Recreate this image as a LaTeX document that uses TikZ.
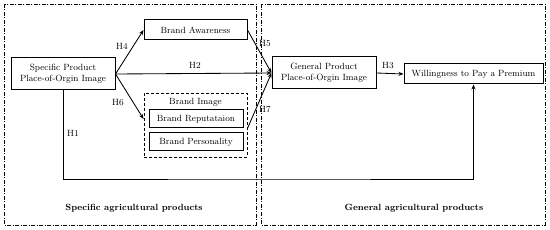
\documentclass[tikz,border=0pt]{standalone}
\usetikzlibrary{arrows.meta,calc}
\begin{document}
\begin{tikzpicture}[x=1pt,y=-1pt,
  box/.style={draw,line width=1pt,rectangle,inner sep=0pt,align=center,font=\fontsize{9}{10.5}\selectfont},
  lab/.style={font=\fontsize{9}{10.5}\selectfont,inner sep=0pt},
  arr/.style={line width=0.85pt,-{Stealth[length=5pt,width=4pt]}},
  region/.style={line width=0.8pt,dash pattern=on 4pt off 1.5pt on 1pt off 1.5pt},
  ttl/.style={font=\fontsize{9}{11}\selectfont\bfseries,inner sep=0pt}]
\useasboundingbox (0,0) rectangle (550,230);
\fill[white] (0,0) rectangle (550,230);
% regions
\draw[region] (4,4) rectangle (256,225);
\draw[region] (261,4) rectangle (545,225);
% nodes
\node[box,minimum width=104pt,minimum height=32pt] (sp) at (63,74) {Specific Product\\Place-of-Orgin Image};
\node[box,minimum width=103pt,minimum height=20pt] (ba) at (195.5,30) {Brand Awareness};
\node[box,minimum width=104pt,minimum height=32pt] (gp) at (324,73) {General Product\\Place-of-Orgin Image};
\node[box,minimum width=139pt,minimum height=20pt] (wp) at (473.5,74) {Willingness to Pay a Premium};
\node[draw,densely dashed,line width=0.9pt,minimum width=103pt,minimum height=64pt,inner sep=0pt] (bi) at (195.5,125) {};
\node[lab] (bit) at (195.5,102) {Brand Image};
\node[box,minimum width=94pt,minimum height=18pt] (br) at (196,119) {Brand Reputataion};
\node[box,minimum width=94pt,minimum height=18pt] (bp) at (196,142) {Brand Personality};
\coordinate (h1c) at (270,179);
% connectors
\draw[arr] (sp.east) -- (ba.west);
\draw[arr] (sp.east) -- (gp.west);
\draw[arr] (sp.east) -- (bi.west |- br.center);
\draw[arr] (ba.east) -- (gp.west);
\draw[arr] (bi.east |- br.south) -- (gp.west);
\draw[arr] (gp.east) -- (wp.west);
\draw[arr] (sp.south) |- (h1c) -| (wp.south);
% labels
\node[lab] (h4) at (122,46) {H4};
\node[lab] (h2) at (195,65) {H2};
\node[lab] (h6) at (118,103) {H6};
\node[lab] (h5) at (265,44) {H5};
\node[lab] (h7) at (265,110) {H7};
\node[lab] (h3) at (388,66) {H3};
\node[lab] (h1) at (73,133) {H1};
\node[ttl] (t1) at (134,208) {Specific agricultural products};
\node[ttl] (t2) at (414,208) {General agricultural products};
\end{tikzpicture}
\end{document}
